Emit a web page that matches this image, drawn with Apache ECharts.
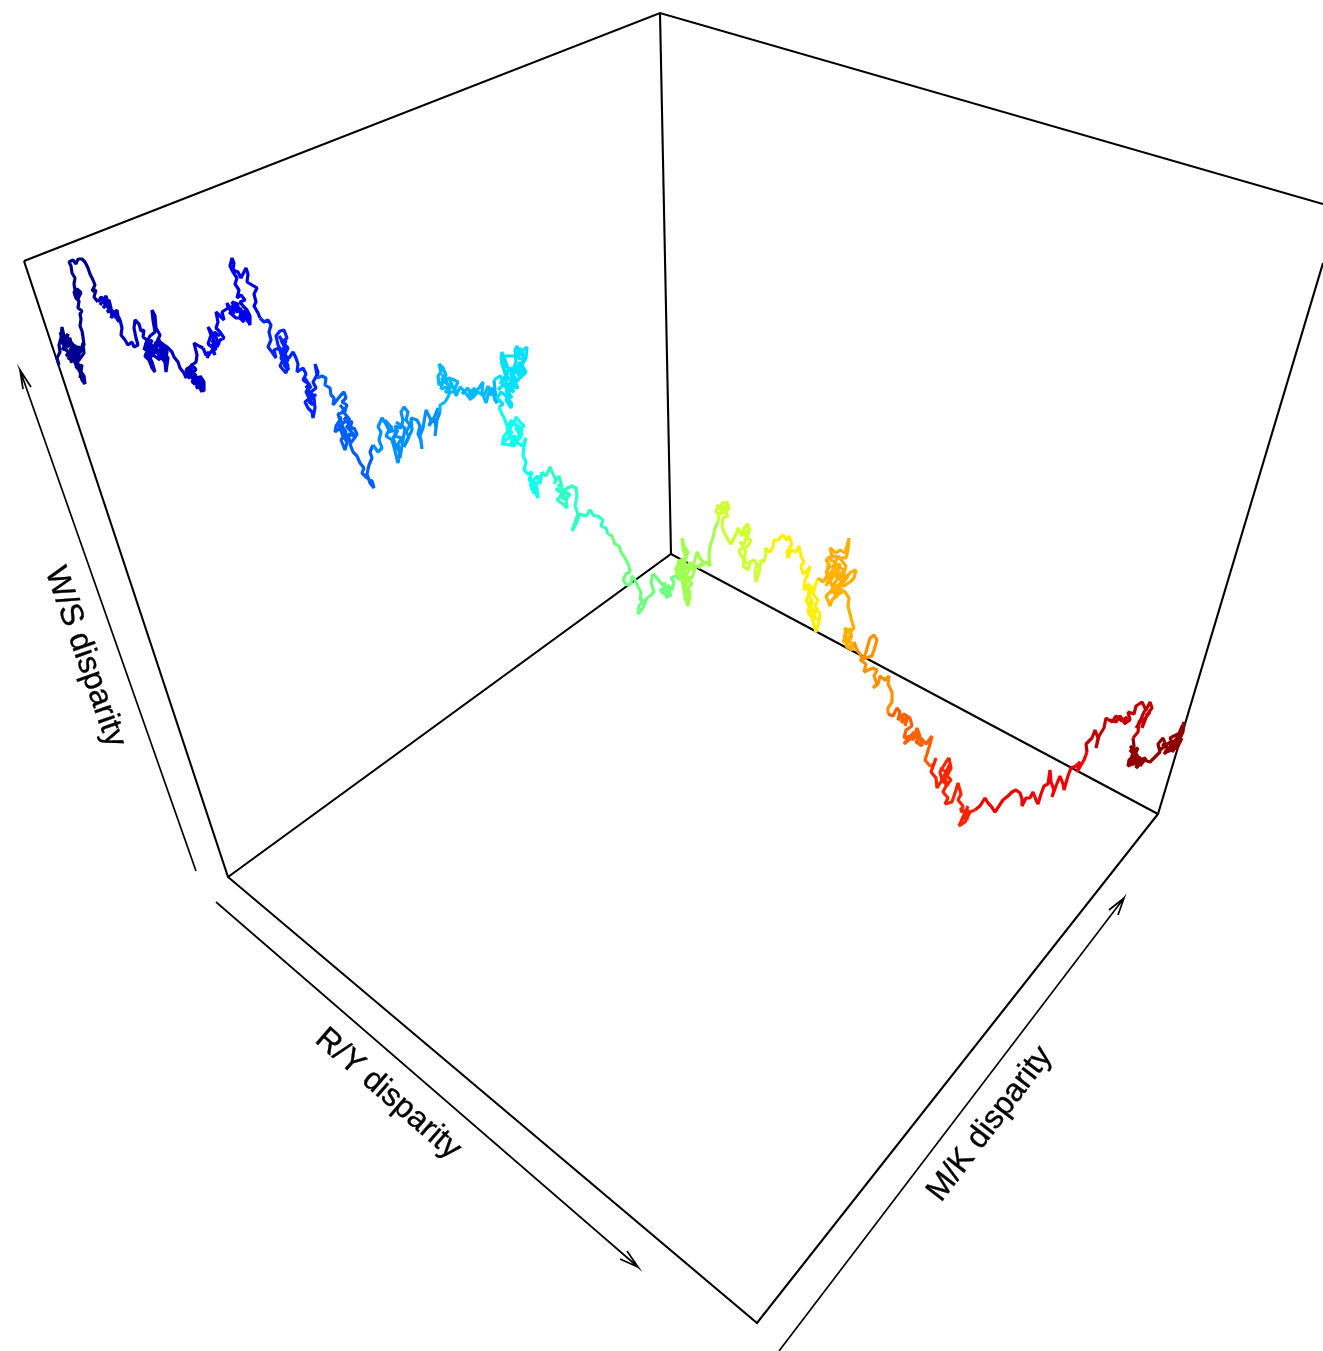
<!DOCTYPE html>
<html><head><meta charset="utf-8">
<style>html,body{margin:0;padding:0;background:#fff}#c{width:1323px;height:1351px}</style>
<script src="https://cdn.jsdelivr.net/npm/echarts@6/dist/echarts.min.js"></script>
</head><body><div id="c"></div>
<script>
// Axis box of the perspective plot (picture coordinates)
const boxBack = [[24,261],[660,13],[1323,204]];
const boxPost = [[660,13],[671,554]];
const boxFloorBack = [[228,877],[671,554],[1158,814]];
const boxFront = [[24,261],[228,877],[757,1323],[1158,814],[1323,263]];
const arrowWS = [[196,871],[20,370],[31,387],[20,370],[23,389]];
const arrowRY = [[216,902],[638,1267],[627,1251],[638,1267],[620,1259]];
const arrowMK = [[779,1351],[1124,898],[1118,915],[1124,898],[1109,910]];
const axisTitles = ["W/S disparity","R/Y disparity","M/K disparity"];
const titleSpots = [[85,657],[388,1094],[990,1124]];
const titleAngles = [-70.6,-41,52.7];

// The walk, band by band along its length
const walk01 = [[59,365],[57,358],[60,352],[59,345],[61,338],[62,327],[64,336],[61,344],[65,338],[68,334],[66,342],[70,345],[64,349],[69,352],[72,347],[74,354],[68,358],[73,361],[76,352],[79,346],[77,356],[81,351],[83,343],[84,353],[79,360],[77,352],[72,350],[75,358],[79,366],[81,372],[84,376],[85,384],[82,380],[80,372],[76,365],[73,358],[67,351],[63,344],[70,341],[75,347],[80,349],[84,345],[83,337],[82,331],[80,326],[81,319],[80,314],[82,311],[78,308],[79,301],[76,298],[74,292],[77,289],[81,293],[79,296],[75,290],[74,284],[75,278],[72,273],[71,266],[69,262],[73,260],[76,264],[78,259],[82,259],[85,262],[88,268],[90,274],[93,280],[95,285],[92,291],[96,290],[94,297],[98,302]];
const walk02 = [[98,302],[101,297],[104,300],[100,305],[106,296],[108,303],[103,308],[109,300],[111,308],[107,312],[113,310],[111,318],[117,310],[118,316],[120,320],[122,328],[121,335],[125,340],[128,345],[132,342],[134,347],[138,345],[136,338],[134,328],[135,320],[139,324],[141,331],[144,330],[143,337],[147,340],[144,350],[150,345],[145,356],[149,360],[152,368],[155,372],[152,362],[148,354],[152,350],[146,343],[150,336],[155,332],[153,320],[152,310],[155,316],[156,328],[160,335],[157,342],[162,348],[158,352],[165,355],[163,345],[167,352],[165,362],[166,372],[168,358],[163,350],[160,342],[167,347],[172,352],[174,357],[178,362],[180,368],[184,373],[186,378],[189,370],[192,364],[196,370],[190,374],[197,378],[193,384],[199,382],[201,390],[204,391],[204,382],[200,376],[202,384],[198,388],[195,380],[190,376],[186,370],[196,362],[197,355],[195,347],[194,343],[199,346],[203,348]];
const walk03 = [[203,348],[206,355],[209,352],[207,358],[212,350],[215,355],[212,346],[208,344],[211,335],[208,327],[212,333],[214,342],[217,347],[220,340],[224,338],[220,332],[216,328],[218,322],[216,312],[220,316],[224,320],[222,312],[228,308],[227,303],[231,312],[235,308],[232,302],[238,304],[236,312],[241,310],[240,318],[244,322],[242,314],[247,318],[250,325],[250,316],[247,310],[243,306],[240,302],[245,300],[241,295],[237,298],[239,290],[235,284],[237,278],[233,272],[230,266],[232,258],[234,263],[233,270],[238,272],[241,278],[246,268],[248,274],[247,282],[252,285],[257,288],[254,294],[256,302],[254,306],[258,313],[260,318]];
const walk04 = [[260,318],[264,322],[268,320],[271,325],[269,332],[271,340],[268,347],[272,352],[276,358],[274,350],[279,348],[283,360],[280,366],[286,373],[288,366],[285,358],[282,352],[278,345],[276,336],[280,331],[284,330],[287,338],[282,342],[288,348],[284,356],[289,358],[293,352],[296,358],[298,364],[297,372],[303,368],[306,374],[303,380],[310,385],[306,392],[310,398],[305,402],[308,408],[312,412],[313,418],[315,408],[314,398],[311,392],[316,388],[313,382],[317,375],[315,364],[318,372],[317,378]];
const walk05 = [[317,378],[322,376],[326,378],[325,385],[330,388],[331,395],[334,398],[333,405],[337,400],[341,395],[344,392],[346,398],[342,402],[347,405],[344,412],[338,414],[340,420],[336,426],[335,432],[340,428],[343,436],[347,442],[345,450],[341,440],[346,432],[341,425],[347,420],[352,422],[349,430],[354,428],[357,434],[353,440],[356,436],[350,444],[353,452],[357,456],[360,463],[364,468],[362,473],[367,478],[372,481],[374,488],[370,483],[367,474],[369,465],[372,458],[370,452],[373,445]];
const walk06 = [[373,445],[378,452],[382,448],[379,440],[381,432],[378,427],[382,418],[386,424],[389,430],[386,436],[392,440],[394,447],[396,455],[398,463],[400,452],[396,446],[393,438],[397,432],[395,426],[401,428],[403,420],[401,412],[404,407],[408,412],[406,420],[410,425],[406,432],[409,437],[404,447],[407,440],[412,430],[411,418],[417,420],[420,426],[418,434],[421,440],[422,449],[420,436],[423,428],[425,416],[426,410],[431,420],[429,426],[435,416],[438,408],[434,418],[436,428],[435,436],[437,420],[440,412]];
const walk07 = [[440,412],[440,405],[445,402],[448,397],[450,392],[447,387],[441,389],[443,381],[439,385],[438,376],[441,372],[439,364],[443,368],[446,375],[443,382],[449,378],[454,380],[458,382],[455,388],[456,396],[460,387],[464,391],[467,395],[471,400],[470,392],[475,388],[472,395],[479,388],[483,382],[482,392],[486,403],[489,392],[492,388],[495,400],[497,403],[495,390],[494,380]];
const walk08 = [[494,380],[500,376],[504,382],[508,372],[503,380],[511,378],[515,372],[510,368],[505,374],[503,366],[501,358],[502,352],[505,360],[508,368],[512,372],[516,362],[515,350],[517,346],[520,354],[523,350],[527,347],[526,358],[522,365],[526,372],[520,378],[516,370],[520,362],[523,370],[517,382],[512,376],[518,388],[510,386],[514,392],[506,388],[510,396],[506,400],[511,408],[512,404],[506,396],[501,392],[497,398],[503,404],[499,407]];
const walk09 = [[499,407],[502,414],[505,420],[507,426],[512,420],[510,430],[504,436],[502,445],[506,440],[510,436],[507,428],[514,424],[516,417],[520,422],[524,426],[519,430],[515,428],[522,434],[518,440],[513,436],[511,444],[517,442],[522,446],[526,438],[524,446],[523,456],[526,462],[524,470],[528,474],[532,472],[529,480],[534,484],[531,488],[536,494],[538,498],[537,488],[533,480],[538,476],[540,484],[542,472]];
const walk10 = [[542,472],[546,476],[550,467],[553,474],[556,480],[554,484],[559,476],[562,486],[559,492],[556,488],[563,494],[557,500],[563,504],[567,508],[566,498],[570,495],[564,490],[572,486],[576,488],[577,496],[575,506],[578,514],[575,522],[572,531],[576,524],[580,514],[586,516],[590,510],[594,516],[598,516],[603,520],[601,526],[606,528],[608,534]];
const walk11 = [[608,534],[612,536],[615,544],[619,546],[621,552],[625,558],[629,566],[630,572],[626,574],[623,580],[627,585],[631,584],[632,576],[635,580],[638,587],[641,592],[640,600],[644,600],[639,606],[638,614],[643,608],[647,598],[650,596],[654,592],[651,582],[653,574],[657,578],[660,582],[664,586],[662,594],[668,590],[666,598],[670,594],[668,585],[672,590],[674,582],[671,578],[676,576],[680,580]];
const walk12 = [[680,580],[678,572],[684,578],[686,588],[685,598],[688,606],[690,596],[688,588],[692,584],[686,576],[690,568],[684,566],[686,558],[683,548],[682,538],[684,546],[688,552],[685,560],[680,568],[675,570],[680,562],[685,570],[690,562],[692,570],[697,552],[700,558],[703,562],[698,568],[706,562],[710,566],[709,555],[710,546],[713,538],[715,528],[718,522]];
const walk13 = [[718,522],[719,514],[716,512],[718,505],[721,510],[722,503],[727,502],[729,508],[725,512],[728,516],[723,518],[722,526],[724,532],[727,538],[731,544],[734,538],[737,532],[738,528],[742,536],[744,528],[748,524],[749,532],[746,538],[751,540],[748,546],[742,548],[739,550],[741,556],[745,558],[743,566],[748,570],[750,562],[754,560],[757,564],[755,572],[756,582],[759,572],[761,560],[764,562],[766,553],[765,548]];
const walk14 = [[765,548],[770,552],[773,547],[774,540],[778,540],[783,535],[787,540],[789,536],[792,544],[787,552],[788,558],[791,550],[796,552],[799,546],[801,556],[804,562],[801,566],[803,574],[808,570],[810,566],[808,574],[805,580],[804,590],[809,584],[811,592],[806,600],[809,606],[812,598],[808,612],[812,618],[814,625],[816,632],[819,622],[820,614],[815,606],[818,600],[813,594],[815,586],[818,578]];
const walk15 = [[818,578],[823,582],[827,576],[828,566],[828,558],[832,556],[830,548],[836,553],[840,550],[845,553],[847,546],[849,538],[848,550],[846,558],[840,558],[834,556],[826,560],[830,566],[826,572],[832,578],[829,584],[834,574],[838,566],[844,570],[840,580],[836,572],[845,578],[851,572],[856,570],[854,578],[850,582],[844,586],[838,584],[842,592],[836,596],[832,600],[830,606],[826,596],[832,590],[838,588],[845,592],[849,598],[848,606],[850,614],[852,622],[854,628],[850,632],[845,628],[846,636],[843,642],[848,640],[852,636],[846,646],[852,650],[854,642]];
const walk16 = [[854,642],[857,650],[860,654],[863,660],[866,652],[868,645],[870,638],[874,635],[877,640],[874,650],[872,656],[866,658],[860,660],[866,664],[864,672],[873,668],[877,670],[874,676],[877,684],[873,688],[878,684],[880,676],[885,680],[889,676],[888,684],[892,692],[892,702],[888,708],[888,714]];
const walk17 = [[888,714],[893,716],[897,708],[900,712],[898,720],[904,714],[910,718],[912,726],[906,730],[904,738],[910,736],[904,744],[914,736],[917,728],[920,736],[916,742],[922,746],[921,738],[926,744],[932,736],[930,744],[927,754],[925,760],[930,766],[934,764]];
const walk18 = [[934,764],[936,758],[931,772],[936,778],[937,788],[942,780],[940,772],[946,762],[949,758],[951,768],[947,776],[951,780],[946,786],[943,792],[948,798],[945,804],[952,802],[956,790],[958,783],[961,794],[958,800],[963,806],[961,812],[968,810],[967,820],[964,815],[959,826],[965,822],[970,812],[975,810]];
const walk19 = [[975,810],[980,806],[985,798],[988,803],[991,806],[995,812],[999,806],[1003,800],[1008,796],[1012,792],[1016,790],[1020,793],[1022,799],[1022,806],[1026,798],[1030,798],[1033,792],[1036,800],[1038,804],[1041,794],[1044,786],[1048,784],[1050,770],[1051,782],[1054,790],[1052,797],[1056,786],[1060,776],[1063,784],[1064,790],[1068,776],[1071,768],[1076,766],[1080,762],[1077,772],[1084,760],[1087,752]];
const walk20 = [[1087,752],[1086,744],[1092,738],[1095,730],[1098,738],[1096,748],[1099,736],[1104,728],[1106,718],[1112,722],[1116,716],[1122,721],[1127,717],[1124,724],[1130,720],[1128,712],[1134,714],[1136,706],[1142,702],[1146,710],[1150,702],[1152,708],[1146,716],[1150,712],[1144,720],[1142,728],[1146,718],[1139,722],[1138,732],[1133,738]];
const walk21 = [[1133,738],[1134,746],[1130,752],[1138,748],[1134,756],[1129,760],[1128,766],[1136,762],[1132,754],[1140,758],[1136,768],[1144,760],[1150,762],[1156,756],[1160,752],[1158,744],[1163,738],[1166,746],[1160,750],[1170,742],[1172,750],[1166,752],[1172,744],[1177,738],[1181,730],[1184,722],[1183,732],[1178,742],[1176,750],[1182,738]];
const walkBands = [walk01,walk02,walk03,walk04,walk05,walk06,walk07,walk08,walk09,walk10,walk11,walk12,walk13,walk14,walk15,walk16,walk17,walk18,walk19,walk20,walk21];
const bandColors = ["#00008F","#0000C4","#0000F0","#0024FF","#0060FF","#0090FF","#00B8FF","#00E0FF","#10FFEF","#30FFC8","#70FF80","#A0FF50","#CFFF30","#FFF000","#FFB000","#FF9000","#FF6000","#FF2400","#F00000","#C00000","#8F0000"];

// Where the walk doubles back on itself the picture is a solid knot; these strands fill the knots
const knot01 = [[60,332],[66,345],[62,350],[70,338],[72,352],[66,356],[75,345],[78,358],[70,362],[80,355],[76,368],[82,365],[80,378]];
const knot01b = [[75,290],[81,292],[76,296],[80,298],[74,294]];
const knot02 = [[100,298],[106,305],[103,298],[110,307],[105,303],[112,314],[108,306],[116,318],[113,312],[119,322]];
const knot02b = [[145,345],[152,340],[148,350],[156,345],[150,358],[158,348],[153,355],[160,360],[155,342],[164,350],[158,338],[165,362],[148,342],[160,352]];
const knot02c = [[186,368],[192,372],[188,378],[196,374],[192,382],[200,384],[196,388],[203,386],[198,376],[202,392],[191,368]];
const knot03 = [[209,345],[216,350],[212,340],[219,345],[214,332],[220,336]];
const knot03b = [[228,305],[234,314],[231,306],[240,312],[236,304],[244,316],[240,308],[248,322],[244,310],[249,318],[236,318],[229,312]];
const knot04 = [[279,336],[285,345],[281,340],[287,352],[282,348],[288,360],[284,365],[289,370],[281,358],[286,340]];
const knot04b = [[305,378],[311,388],[306,386],[312,396],[307,394],[313,405],[309,402],[316,394]];
const knot05 = [[340,405],[346,412],[342,410],[350,420],[344,418],[352,428],[346,426],[355,436],[348,434],[350,442],[343,430],[338,424],[345,438],[340,416]];
const knot06 = [[385,420],[392,428],[388,432],[398,430],[394,436],[402,438],[398,444],[400,458],[405,428],[396,422]];
const knot07 = [[441,378],[447,384],[442,374],[450,388],[445,392],[455,392],[449,378],[453,388]];
const knot07b = [[462,394],[468,388],[472,398],[478,392],[484,396],[488,386],[492,396]];
const knot08 = [[500,384],[505,376],[508,388],[512,380],[516,378],[510,374],[518,372],[522,376],[519,368],[524,360],[518,358],[522,350],[525,362],[520,348],[516,356],[504,356],[506,368],[501,362],[508,378],[514,384],[506,392],[512,398],[504,384],[498,390]];
const knot09 = [[506,430],[512,432],[508,438],[516,436],[512,442],[520,438],[516,424],[522,430],[514,446],[504,444]];
const knot09b = [[530,476],[534,490],[530,484],[537,482],[533,494]];
const knot10 = [[558,484],[564,492],[560,496],[568,500],[562,498],[566,492],[560,488]];
const knot11 = [[664,582],[668,592],[665,596],[670,586],[660,590],[672,596]];
const knot12 = [[678,566],[684,570],[680,576],[688,572],[682,582],[688,580],[684,590],[690,590],[686,600],[678,562],[684,558],[676,574],[692,578],[696,566],[700,566]];
const knot13 = [[720,506],[726,510],[720,514],[727,504]];
const knot13b = [[742,530],[748,538],[744,534],[750,528],[744,544],[740,542],[746,552],[743,560],[747,564]];
const knot14 = [[806,590],[812,586],[808,594],[813,604],[808,604],[815,612],[811,610],[817,620],[813,616],[818,608]];
const knot15 = [[830,560],[836,562],[832,568],[840,564],[836,578],[842,572],[834,584],[840,590],[830,592],[844,582],[848,576],[828,574],[836,598],[846,566],[838,556],[826,586]];
const knot15b = [[846,632],[852,634],[847,640],[853,644],[848,648],[844,636],[851,628]];
const knot17 = [[900,716],[906,722],[901,722],[908,716],[905,726]];
const knot17b = [[908,740],[914,732],[912,740],[918,734],[918,744]];
const knot18 = [[940,768],[946,772],[942,780],[948,786],[944,776],[950,764]];
const knot18b = [[960,808],[966,814],[962,820],[968,806]];
const knot20 = [[1136,728],[1141,720],[1138,726],[1144,712],[1147,708]];
const knot20b = [[1110,720],[1116,722],[1120,716],[1126,724]];
const knot21 = [[1130,746],[1136,752],[1131,758],[1138,756],[1132,764],[1142,764],[1134,750],[1130,762],[1146,758],[1140,766]];
const knot21b = [[1162,744],[1168,748],[1164,754],[1174,746],[1170,738],[1178,734],[1180,742],[1172,752],[1182,726]];
const knotList = [knot01,knot01b,knot02,knot02b,knot02c,knot03,knot03b,knot04,knot04b,knot05,knot06,knot07,knot07b,knot08,knot09,knot09b,knot10,knot11,knot12,knot13,knot13b,knot14,knot15,knot15b,knot17,knot17b,knot18,knot18b,knot20,knot20b,knot21,knot21b];
const knotBands = [0,0,1,1,1,2,2,3,3,4,5,6,6,7,8,8,9,10,11,12,12,13,14,14,16,16,17,17,19,19,20,20];

function plain(data, width, z){
  return {type:'line',data,showSymbol:false,symbol:'none',silent:true,z,
    lineStyle:{color:'#000',width,cap:'butt',join:'miter',opacity:1}};
}
function walkLine(data, color){
  return {type:'line',data,showSymbol:false,symbol:'none',silent:true,z:5,
    lineStyle:{color,width:3.2,join:'bevel',opacity:1}};
}
const series = [
  plain(boxBack,2.1,2),plain(boxPost,2.1,2),plain(boxFloorBack,2.1,2),plain(boxFront,2.1,2),
  plain(arrowWS,1.7,2),plain(arrowRY,1.7,2),plain(arrowMK,1.7,2)
];
walkBands.forEach((w,i)=>series.push(walkLine(w,bandColors[i])));
knotList.forEach((k,i)=>series.push(walkLine(k,bandColors[knotBands[i]])));
axisTitles.forEach((t,i)=>series.push({type:'scatter',symbolSize:0,silent:true,z:6,
  data:[{value:titleSpots[i],name:t}],
  label:{show:true,position:'inside',formatter:t,rotate:titleAngles[i],align:'center',verticalAlign:'middle',
    fontFamily:'Liberation Sans',fontSize:32,color:'#000',textBorderWidth:0.35,textBorderColor:'#000',opacity:1}}));

const chart = echarts.init(document.getElementById('c'),null,{renderer:'canvas'});
chart.setOption({
  animation:false,backgroundColor:'#fff',
  grid:{left:0,right:0,top:0,bottom:0},
  xAxis:{type:'value',min:0,max:1323,show:false},
  yAxis:{type:'value',min:0,max:1351,inverse:true,show:false},
  series
});
</script></body></html>
